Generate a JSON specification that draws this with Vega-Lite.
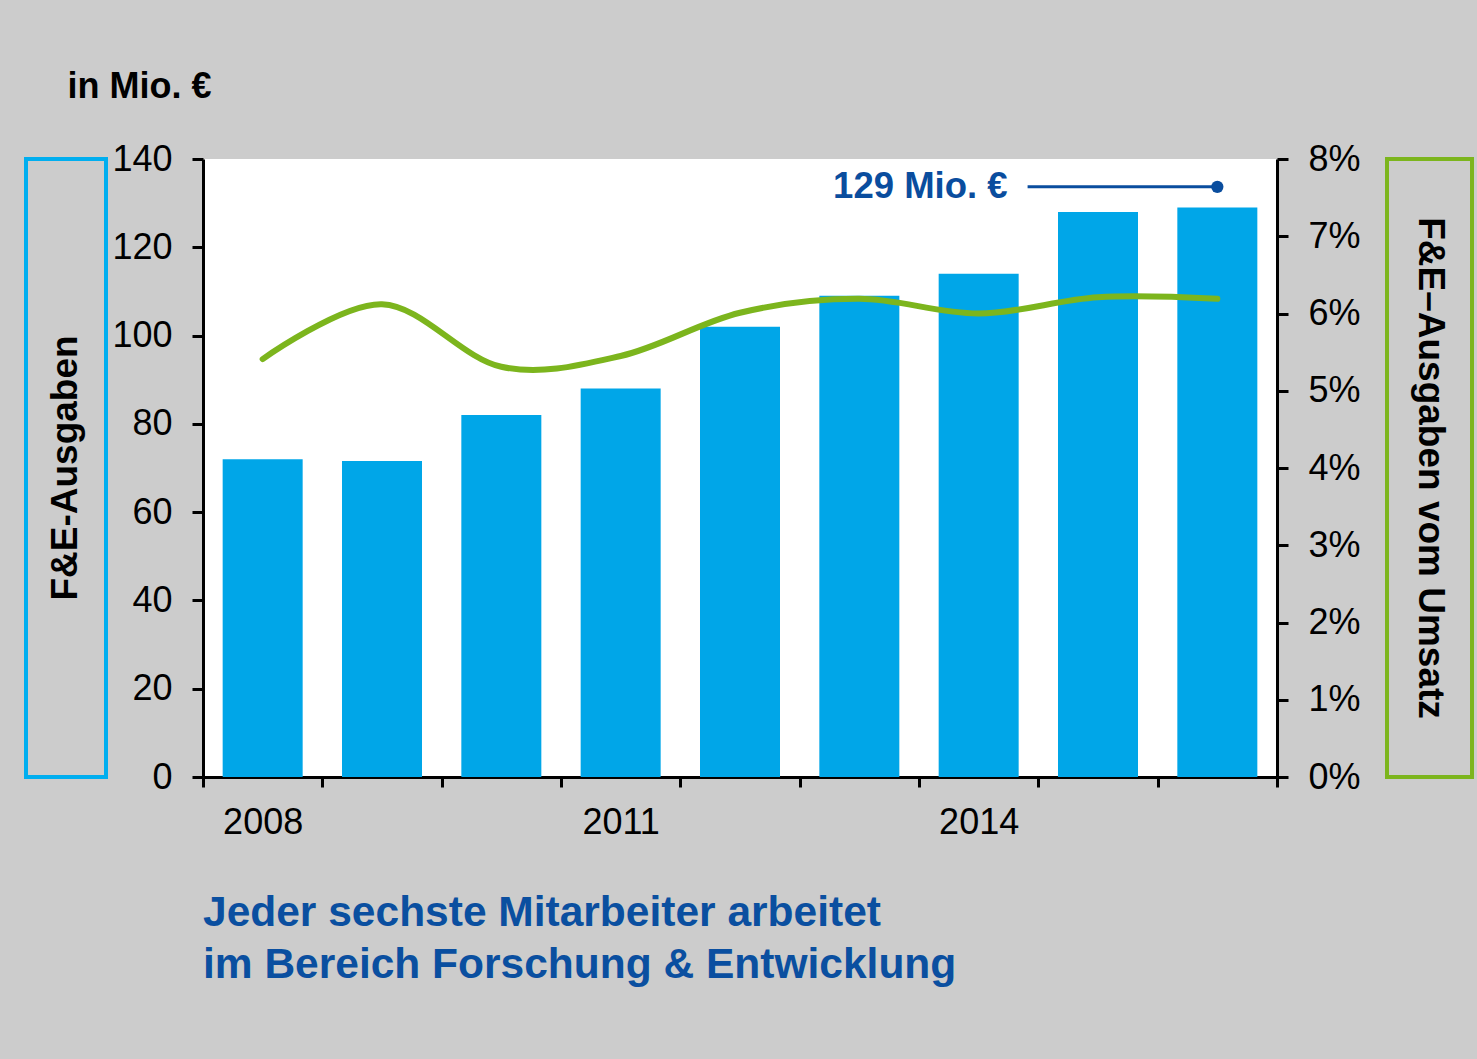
{
  "$schema": "https://vega.github.io/schema/vega-lite/v6.json",
  "background": "#cccccc",
  "padding": {"left": 24, "top": 68, "right": 3, "bottom": 90},
  "config": {
    "font": "Liberation Sans",
    "view": {"stroke": null},
    "axis": {
      "labelFont": "Liberation Sans",
      "labelFontSize": 36,
      "labelColor": "#000000",
      "domainColor": "#000000",
      "domainWidth": 3,
      "tickColor": "#000000",
      "tickWidth": 3,
      "grid": false
    }
  },
  "datasets": {
    "fe": [
      {"year": 2008, "fe": 72, "pct": 0.0541},
      {"year": 2009, "fe": 71.6, "pct": 0.0612},
      {"year": 2010, "fe": 82, "pct": 0.0531},
      {"year": 2011, "fe": 88, "pct": 0.0545},
      {"year": 2012, "fe": 102, "pct": 0.0601},
      {"year": 2013, "fe": 109, "pct": 0.0619},
      {"year": 2014, "fe": 114, "pct": 0.06},
      {"year": 2015, "fe": 128, "pct": 0.0621},
      {"year": 2016, "fe": 129, "pct": 0.0619}
    ],
    "anno": [
      {"x0": 2014.41, "x1": 2016, "y": 133.7, "label": "129 Mio. €"}
    ]
  },
  "bounds": "flush",
  "spacing": 97,
  "hconcat": [
    {
      "width": 80,
      "height": 618,
      "view": {"stroke": "#00aeef", "strokeWidth": 4},
      "data": {"values": [{"t": "F&E-Ausgaben"}]},
      "mark": {"type": "text", "angle": 270, "fontSize": 37, "fontWeight": "bold", "color": "#000000", "align": "center", "baseline": "middle", "font": "Liberation Sans"},
      "encoding": {"text": {"field": "t"}}
    },
    {
      "bounds": "flush",
      "spacing": 110,
      "hconcat": [
        {
          "width": 1074,
          "height": 618,
          "view": {"fill": "#ffffff", "stroke": null},
          "data": {"name": "fe"},
          "title": {
            "text": ["Jeder sechste Mitarbeiter arbeitet", "im Bereich Forschung & Entwicklung"],
            "orient": "bottom",
            "anchor": "start",
            "frame": "group",
            "offset": 52,
            "font": "Liberation Sans",
            "fontSize": 42.5,
            "fontWeight": "bold",
            "color": "#0a4fa0",
            "lineHeight": 52
          },
          "layer": [
            {
              "layer": [
                {
                  "mark": {"type": "bar", "width": 80, "color": "#00a6e8"},
                  "encoding": {
                    "x": {
                      "field": "year",
                      "type": "quantitative",
                      "title": null,
                      "scale": {"domain": [2007.5, 2016.5], "nice": false, "zero": false, "padding": 0},
                      "axis": {
                        "values": [2007.5, 2008.5, 2009.5, 2010.5, 2011.5, 2012.5, 2013.5, 2014.5, 2015.5, 2016.5],
                        "tickSize": 10,
                        "labelExpr": "datum.value == 2007.5 ? '2008' : datum.value == 2010.5 ? '2011' : datum.value == 2013.5 ? '2014' : ''",
                        "labelOffset": 59.67,
                        "labelPadding": 18,
                        "labelFlush": false,
                        "labelOverlap": false,
                        "labelBound": false,
                        "title": null
                      }
                    },
                    "y": {
                      "field": "fe",
                      "type": "quantitative",
                      "title": "in Mio. €",
                      "scale": {"domain": [0, 140], "nice": false, "padding": 0},
                      "axis": {
                        "orient": "left",
                        "values": [0, 20, 40, 60, 80, 100, 120, 140],
                        "tickSize": 11,
                        "labelPadding": 20,
                        "title": "in Mio. €",
                        "titleAngle": 0,
                        "titleAlign": "left",
                        "titleBaseline": "alphabetic",
                        "titleX": -136,
                        "titleY": -62,
                        "titleFont": "Liberation Sans",
                        "titleFontSize": 36,
                        "titleFontWeight": "bold",
                        "titleColor": "#000000"
                      }
                    }
                  }
                },
                {
                  "data": {"name": "anno"},
                  "mark": {"type": "rule", "strokeWidth": 3, "color": "#0a4d9e"},
                  "encoding": {
                    "x": {"field": "x0", "type": "quantitative", "title": null},
                    "x2": {"field": "x1"},
                    "y": {"field": "y", "type": "quantitative", "title": "in Mio. €"}
                  }
                },
                {
                  "data": {"name": "anno"},
                  "mark": {"type": "point", "filled": true, "size": 150, "color": "#0a4d9e", "opacity": 1},
                  "encoding": {
                    "x": {"field": "x1", "type": "quantitative", "title": null},
                    "y": {"field": "y", "type": "quantitative", "title": "in Mio. €"}
                  }
                },
                {
                  "data": {"name": "anno"},
                  "mark": {"type": "text", "align": "right", "baseline": "middle", "dx": -20, "font": "Liberation Sans", "fontSize": 36.5, "fontWeight": "bold", "color": "#0a4d9e"},
                  "encoding": {
                    "x": {"field": "x0", "type": "quantitative", "title": null},
                    "y": {"field": "y", "type": "quantitative", "title": "in Mio. €"},
                    "text": {"field": "label"}
                  }
                }
              ]
            },
            {
              "mark": {"type": "line", "color": "#7cb51d", "strokeWidth": 6, "interpolate": "cardinal", "strokeCap": "round"},
              "encoding": {
                "x": {"field": "year", "type": "quantitative", "title": null, "scale": {"domain": [2007.5, 2016.5], "nice": false, "zero": false, "padding": 0}},
                "y": {
                  "field": "pct",
                  "type": "quantitative",
                  "scale": {"domain": [0, 0.08], "nice": false},
                  "axis": {
                    "orient": "right",
                    "values": [0, 0.01, 0.02, 0.03, 0.04, 0.05, 0.06, 0.07, 0.08],
                    "format": ".0%",
                    "tickSize": 11,
                    "labelPadding": 20,
                    "title": null
                  }
                }
              }
            }
          ],
          "resolve": {"scale": {"y": "independent"}}
        },
        {
          "width": 85,
          "height": 618,
          "view": {"stroke": "#7cb51d", "strokeWidth": 4},
          "data": {"values": [{"t": "F&E–Ausgaben vom Umsatz"}]},
          "mark": {"type": "text", "angle": 90, "fontSize": 37, "fontWeight": "bold", "color": "#000000", "align": "center", "baseline": "middle", "font": "Liberation Sans"},
          "encoding": {"text": {"field": "t"}}
        }
      ]
    }
  ]
}
